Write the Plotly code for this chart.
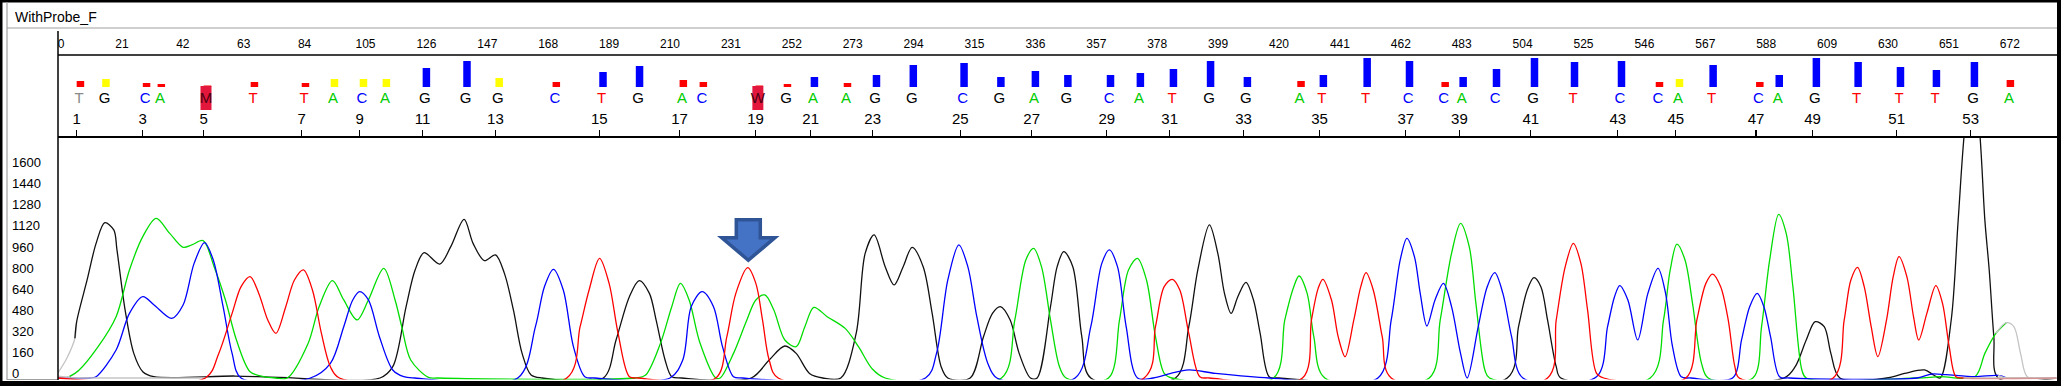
import numpy as np
import plotly.graph_objects as go

W, H = 2061, 386

# ------------------------------------------------------------------ data
TITLE = "WithProbe_F"
SCAN_TICKS = list(range(0, 673, 21))
Y_TICKS = list(range(0, 1601, 160))

BASE_CALLS = list("TGCAMTTACAGGGCTGACWGAAGGCGAGCATGGATTCCACGTCCATCAGTTTGA")
BASE_POS = [6.2, 15.0, 29.0, 34.1, 50.0, 66.2, 83.8, 93.8, 103.8, 111.7,
            125.5, 139.5, 150.6, 170.3, 186.4, 199.0, 214.1, 221.0, 240.3, 250.0,
            259.3, 270.7, 280.7, 293.4, 310.9, 323.6, 335.5, 346.7, 361.4, 371.7,
            383.1, 395.9, 408.6, 427.1, 434.8, 449.9, 464.5, 476.8, 483.0, 494.5,
            507.6, 521.4, 537.6, 550.7, 557.6, 569.2, 585.3, 592.0, 604.8, 619.2,
            633.8, 646.2, 659.3, 671.7]
QUALITY = [12, 16, 8, 6, 3, 10, 8, 16, 16, 16,
           38, 52, 18, 10, 30, 42, 14, 10, 3, 6,
           20, 8, 24, 44, 48, 20, 32, 24, 24, 28,
           36, 52, 20, 12, 24, 58, 52, 10, 20, 36,
           58, 50, 52, 10, 16, 44, 10, 24, 58, 50,
           40, 34, 50, 14]
EDGE_BASES = [1]          # low-confidence call shown in gray
ARROW_TARGET = (237.0, 838)  # scan, signal of marked peak

# G channel (black)
G_SCAN = [-1, 2, 4.8, 5.4, 9, 12.1, 15.1, 18.2, 19.3, 22.1, 25.1, 28.2, 32, 60, 75, 110,
          114.4, 119, 122.1, 125.2, 130.6, 134.4, 139, 142.1, 146, 149.8, 152.9, 156, 159, 162.1, 166,
          187, 191.4, 196, 199.4, 202.9, 205.2, 208.3, 210.6, 214,
          238, 244.2, 249.6, 253.5, 258.1, 262.7,
          268.9, 274.2, 277.3, 280.4, 284.2, 287.3, 290.4, 293.5, 297.3, 300.4, 303.5, 305.8,
          313.5, 318.1, 321.2, 323.9, 327.3, 330.4, 334.3,
          336.6, 341.2, 343.5, 345.8, 348.9, 352, 355.1,
          384.3, 388.9, 392, 396, 398.9, 401.2, 403.5, 405.8, 408.6, 411.2, 413.5, 416.6, 420,
          498.7, 502.6, 505.6, 507.9, 510.3, 512.6, 515.6, 517.2,
          594.1, 598, 601.8, 604.9, 608, 610.3, 613.4,
          629.5, 635.7, 642.6, 645.7, 648, 651.8, 654.2, 656.5, 659.1, 661.5, 663.4, 664.9, 666.5, 668, 688]
G_VAL = [40, 150, 302, 428, 745, 1023, 1180, 1125, 973, 517, 187, 48, 10, 15, 5, 0,
         86, 542, 820, 952, 866, 998, 1206, 1023, 892, 935, 795, 517, 187, 23, 0,
         0, 289, 618, 740, 643, 441, 137, 10, 0,
         0, 137, 243, 187, 35, 0,
         0, 339, 947, 1087, 846, 707, 846, 993, 846, 491, 86, 0,
         0, 314, 491, 542, 441, 187, 0,
         0, 542, 846, 960, 846, 314, 0,
         0, 390, 821, 1163, 947, 643, 491, 618, 727, 593, 339, 10, 0,
         0, 390, 669, 762, 694, 441, 86, 0,
         0, 86, 289, 428, 390, 187, 0,
         0, 35, 61, 23, 0, 441, 1200, 1900, 2300, 1900, 1200, 821, 314, 0, 0]

# C channel (blue)
C_SCAN = [-1, 10, 12.1, 19, 23.6, 28.2, 32.1, 38.2, 42.1, 45.9, 49.5, 52.5, 55.9, 59, 62.1,
          86, 92.9, 97.5, 100.6, 103, 106, 109.8, 114.4, 118.2, 122,
          157.5, 163.6, 166.7, 169.8, 173.2, 176.7, 180.6, 184,
          210, 214.4, 217.3, 221.1, 225, 228.1, 231.9, 235,
          298.1, 301.9, 305.8, 309.6, 312.7, 315.8, 319.6, 322.7,
          349.7, 355.1, 358.9, 361.5, 364.3, 367.3, 371.2,
          376.6, 382.7, 388.9, 398.1, 416.6,
          454.1, 458.7, 461.8, 464.1, 466.7, 468.7, 471, 473.8, 476.7, 479.5, 482.6, 484.9,
          488.7, 491.8, 494.4, 497.2, 500.2, 504.1,
          529.5, 533.3, 535.7, 537.5, 540.3, 543.7, 547.2, 550.7, 553.3, 555.7, 558.7, 562,
          576.4, 579.5, 582.3, 584.9, 587.2, 589.5, 592.6, 596,
          640, 645, 650, 660, 668, 671, 688]
C_VAL = [0, 0, 10, 213, 491, 618, 555, 453, 555, 871, 1028, 897, 542, 187, 0,
         0, 111, 390, 593, 656, 593, 314, 61, 10, 0,
         0, 390, 694, 826, 669, 238, 10, 0,
         0, 137, 542, 656, 542, 238, 10, 0,
         0, 187, 745, 1011, 846, 466, 111, 0,
         0, 390, 871, 973, 846, 390, 0,
         0, 35, 61, 35, 0,
         0, 441, 897, 1061, 922, 643, 395, 593, 719, 542, 187, 0,
         390, 694, 800, 643, 314, 0,
         10, 390, 618, 702, 593, 289, 643, 833, 643, 238, 10, 0,
         0, 289, 542, 643, 542, 314, 10, 0,
         0, 30, 25, 10, 20, 0, 0]

# A channel (green)
A_SCAN = [-1, 3, 6, 12.8, 19, 23.6, 28.2, 32.8, 37.5, 42.1, 45.1, 49, 52.8, 56.7, 60.5, 65.2, 69.8, 74,
          78, 85.2, 89, 93.6, 97.5, 102.1, 106, 111.3, 115.2, 117.5, 120.6, 126.7, 130,
          198, 201.5, 206.7, 210.6, 213.6, 216.6, 220.2, 225.8,
          227.3, 231.9, 236.5, 239.6, 242.7, 245.8, 249.6, 253.5, 256.5, 259.6, 264.2, 270.4, 275, 279.6, 284.2,
          324.3, 328.9, 332.7, 335.4, 338.1, 341.2, 344.3, 346.6,
          361.2, 365, 368.1, 371.2, 374.3, 377.4, 380.4, 383,
          418.1, 422, 425.1, 426.9, 429.7, 432, 435.8,
          471.8, 475.6, 479.5, 482.6, 485.6, 487.9, 491, 492.6,
          548, 552.6, 554.9, 557.2, 560, 562.6, 565.7, 568,
          583.4, 586.4, 589.2, 592.3, 594.9, 597.2, 600.3, 601.8,
          640, 648, 660, 663.4, 667.2, 670.8, 673.4, 675.7, 678, 682.6, 688]
A_VAL = [15, 12, 55, 238, 466, 821, 1074, 1213, 1099, 993, 1011, 1044, 846, 593, 289, 48, 10, 0,
         0, 263, 542, 740, 593, 441, 593, 833, 593, 390, 137, 5, 0,
         0, 20, 263, 542, 719, 593, 276, 0,
         0, 187, 441, 593, 631, 517, 289, 238, 390, 537, 466, 377, 238, 73, 0,
         0, 441, 897, 985, 846, 441, 86, 0,
         0, 441, 821, 909, 745, 314, 35, 0,
         0, 441, 694, 775, 643, 314, 0,
         0, 441, 947, 1175, 998, 567, 61, 0,
         0, 441, 821, 1018, 897, 567, 111, 0,
         0, 390, 897, 1244, 1099, 694, 61, 0,
         0, 10, 10, 187, 339, 420, 390, 187, 10, 0, 0]

# T channel (red)
T_SCAN = [-1, 49.8, 54.4, 59, 62.1, 65.2, 68.2, 71.3, 74.1, 77.5, 80.5, 83.6, 86.7, 89.8, 92.9, 96,
          174.4, 179, 182.1, 185.7, 189, 192.1, 196, 199,
          225.8, 229.6, 232.7, 236.8, 239.6, 241.9, 244.2, 247.3,
          373.5, 377.4, 380.4, 383.2, 385.8, 388.9, 392.7, 396,
          428.1, 431.2, 433.5, 435.1, 438.1, 440.4, 442.8, 445.8, 448.2, 450, 452.5, 455.6, 458.7,
          512.6, 515.6, 518.7, 521.5, 524.1, 526.4, 529.5, 532,
          560.3, 564.1, 567.2, 569.5, 572.3, 574.9, 577.2, 578.7,
          611.1, 614.9, 617.2, 619.5, 621.8, 624.2, 626.5, 629.5, 631.8, 633.8, 636.5, 638.8, 640.6,
          643.4, 646.5, 648.8, 651.1, 653.4, 656, 688]
T_VAL = [0, 0, 187, 491, 694, 770, 643, 441, 339, 542, 745, 821, 669, 339, 86, 0,
         0, 390, 669, 909, 719, 339, 10, 0,
         0, 314, 643, 838, 719, 441, 137, 0,
         0, 390, 694, 750, 669, 339, 10, 0,
         0, 441, 681, 750, 593, 314, 162, 441, 694, 800, 669, 314, 0,
         0, 441, 846, 1023, 871, 517, 35, 0,
         0, 441, 719, 790, 694, 441, 86, 0,
         0, 441, 745, 841, 694, 390, 162, 441, 770, 922, 770, 466, 289,
         491, 702, 567, 238, 10, 0, 0]

# ------------------------------------------------------------------ geometry / style
def px(x):
    return x / W


def py(y):
    return 1 - y / H


X0PX, X1PX = 58, 2057
SCAN0_PX, PX_PER_SCAN = 61.0, 2.9
XR = [(X0PX - SCAN0_PX) / PX_PER_SCAN, (X1PX - SCAN0_PX) / PX_PER_SCAN]

TR_TOP, TR_BOT = 137, 379.5
ZERO_Y, PX_PER_UNIT = 378.0, 0.1316
YR = [(ZERO_Y - TR_BOT) / PX_PER_UNIT, (ZERO_Y - TR_TOP) / PX_PER_UNIT]
LABEL_ZERO_Y = 373.3
LAB_OFF = (ZERO_Y - LABEL_ZERO_Y) / PX_PER_UNIT
Y2R = [YR[0] - LAB_OFF, YR[1] - LAB_OFF]

BAR_TOP, BAR_BOT, BAR_ZERO, Q_PX = 56, 135, 87, 0.5
Y3R = [-(BAR_BOT - BAR_ZERO) / Q_PX, (BAR_ZERO - BAR_TOP) / Q_PX]
LETTER_Y = -(99.5 - BAR_ZERO) / Q_PX
AMB_BOTTOM = -(110 - BAR_ZERO) / Q_PX
AMB_TOP = (BAR_ZERO - 86) / Q_PX

COLOR_START, COLOR_END = 5.2, 670.8
TICK_DX, BAR_DX, LETTER_DX = -0.8, 0.5, 0.0

CH_COL = {"G": "#111111", "C": "#0000FF", "A": "#00DD00", "T": "#FF0000"}
LETTER_COL = {"G": "#000000", "C": "#0000FF", "A": "#00CC00", "T": "#FF0000"}
GRAY = "#C4C4C4"
NARROW = "Liberation Sans Narrow, Liberation Sans, Arial Narrow, sans-serif"
SANS = "Liberation Sans, Arial, sans-serif"

fig = go.Figure()

# ------------------------------------------------------------------ traces
channels = [("G", G_SCAN, G_VAL), ("A", A_SCAN, A_VAL), ("C", C_SCAN, C_VAL), ("T", T_SCAN, T_VAL)]
for key, xs, vs in channels:
    xs = np.asarray(xs, float)
    vs = np.asarray(vs, float)
    i0 = int(np.searchsorted(xs, COLOR_START, side="right"))
    i1 = int(np.searchsorted(xs, COLOR_END, side="left"))
    parts = [
        (xs[:i0 + 1], vs[:i0 + 1], GRAY),
        (xs[max(i0 - 1, 0):i1 + 1], vs[max(i0 - 1, 0):i1 + 1], CH_COL[key]),
        (xs[i1 - 1:], vs[i1 - 1:], GRAY),
    ]
    for sx, sv, col in parts:
        fig.add_trace(go.Scatter(
            x=sx, y=sv, mode="lines", xaxis="x", yaxis="y",
            line=dict(color=col, width=1.3, shape="spline", smoothing=0.9),
            hoverinfo="skip", showlegend=False))

# quality bars
qcol = ["#FF0000" if q < 15 else ("#FFFF00" if q < 20 else "#0000FF") for q in QUALITY]
fig.add_trace(go.Bar(
    x=[p + BAR_DX for p in BASE_POS], y=QUALITY, xaxis="x", yaxis="y3",
    width=7.5 / PX_PER_SCAN, marker=dict(color=qcol, line=dict(width=0)),
    hoverinfo="skip", showlegend=False))

# ambiguity boxes
amb_x = [p for p, b in zip(BASE_POS, BASE_CALLS) if b not in "ACGT"]
fig.add_trace(go.Bar(
    x=amb_x, y=[AMB_TOP - AMB_BOTTOM] * len(amb_x), base=[AMB_BOTTOM] * len(amb_x),
    xaxis="x", yaxis="y3", width=11 / PX_PER_SCAN,
    marker=dict(color="#E3163C", line=dict(width=0)),
    hoverinfo="skip", showlegend=False))

# letters
lcol = []
for i, b in enumerate(BASE_CALLS):
    if (i + 1) in EDGE_BASES:
        lcol.append("#8A8A8A")
    else:
        lcol.append(LETTER_COL.get(b, "#4A0010"))
fig.add_trace(go.Scatter(
    x=[p + LETTER_DX for p in BASE_POS], y=[LETTER_Y] * len(BASE_POS),
    mode="text", text=BASE_CALLS, xaxis="x", yaxis="y3",
    textfont=dict(family=NARROW, size=15, color=lcol),
    cliponaxis=False, hoverinfo="skip", showlegend=False))

# anchor traces for the extra axes
for xa, ya in [("x2", "y"), ("x3", "y"), ("x", "y2")]:
    fig.add_trace(go.Scatter(x=[XR[0] + 1], y=[0], mode="markers", xaxis=xa, yaxis=ya,
                             marker=dict(opacity=0, size=1), hoverinfo="skip", showlegend=False))

odd_idx = [i for i in range(len(BASE_POS)) if (i + 1) % 2 == 1]

# ------------------------------------------------------------------ layout
hide = dict(showgrid=False, zeroline=False, showline=False, ticks="", showticklabels=False)
fig.update_layout(
    width=W, height=H, margin=dict(l=0, r=0, t=0, b=0),
    paper_bgcolor="white", plot_bgcolor="white", showlegend=False,
    barmode="overlay",
    xaxis=dict(domain=[px(X0PX), px(X1PX)], range=XR, anchor="y", **hide),
    yaxis=dict(domain=[py(TR_BOT), py(TR_TOP)], range=YR, anchor="x", **hide),
    yaxis3=dict(domain=[py(BAR_BOT), py(BAR_TOP)], range=Y3R, anchor="x", **hide),
    yaxis2=dict(overlaying="y", range=Y2R, side="right", anchor="free", position=px(11),
                tickvals=Y_TICKS, showgrid=False, zeroline=False, showline=False, ticks="",
                tickfont=dict(family=SANS, size=13, color="black")),
    xaxis2=dict(overlaying="x", range=XR, side="top", anchor="free", position=py(50),
                tickvals=SCAN_TICKS, showgrid=False, zeroline=False, showline=False, ticks="",
                tickfont=dict(family=SANS, size=12, color="black")),
    xaxis3=dict(overlaying="x", range=XR, side="top", anchor="free", position=py(136),
                tickvals=[BASE_POS[i] + TICK_DX for i in odd_idx],
                ticktext=[str(i + 1) for i in odd_idx],
                showgrid=False, zeroline=False, showline=True, linecolor="black", linewidth=1.5,
                ticks="outside", ticklen=6, tickwidth=1.3, tickcolor="black",
                tickfont=dict(family=NARROW, size=15, color="black")),
)

shapes = []


def rect(x0, y0, x1, y1, color):
    shapes.append(dict(type="rect", xref="paper", yref="paper", x0=px(x0), x1=px(x1),
                       y0=py(y1), y1=py(y0), fillcolor=color, line=dict(width=0), layer="above"))


def line(x0, y0, x1, y1, color, w):
    shapes.append(dict(type="line", xref="paper", yref="paper", x0=px(x0), x1=px(x1),
                       y0=py(y0), y1=py(y1), line=dict(color=color, width=w), layer="above"))


# window frame
rect(0, 0, W, 2.5, "black")
rect(0, 0, 2.5, H, "black")
rect(W - 4, 0, W, H, "black")
rect(0, 381, W, H, "black")
line(7, 28, 2057, 28, "#A0A0A0", 1.2)
line(7, 2, 7, 380, "#A0A0A0", 1.2)
line(7, 379.5, 58, 379.5, "#A0A0A0", 1.2)
# panel lines
line(58, 31, 58, 380, "black", 1.5)
line(58, 55, 2057, 55, "black", 1.5)

# arrow marker (pixels relative to the marked peak)
ax, ay = ARROW_TARGET
tip = 7.5
shapes.append(dict(
    type="path", xref="x", yref="y", xsizemode="pixel", ysizemode="pixel",
    xanchor=ax, yanchor=ay,
    path=(f"M 0,{tip} L -26.5,{tip + 22.5} L -12,{tip + 22.5} L -12,{tip + 40.5} "
          f"L 12,{tip + 40.5} L 12,{tip + 22.5} L 26.5,{tip + 22.5} Z"),
    fillcolor="#4472C4", line=dict(color="#2F5597", width=3.5), layer="above"))

fig.update_layout(shapes=shapes)

fig.add_annotation(text=TITLE, xref="paper", yref="paper", x=px(13), y=py(17),
                   xanchor="left", yanchor="middle", showarrow=False,
                   font=dict(family=SANS, size=14, color="black"))

fig.write_html(
    "out.html",
    config={"displayModeBar": False, "staticPlot": True},
    post_script="document.body.style.margin='0px';document.body.style.padding='0px';"
                "document.body.style.overflow='hidden';",
)
